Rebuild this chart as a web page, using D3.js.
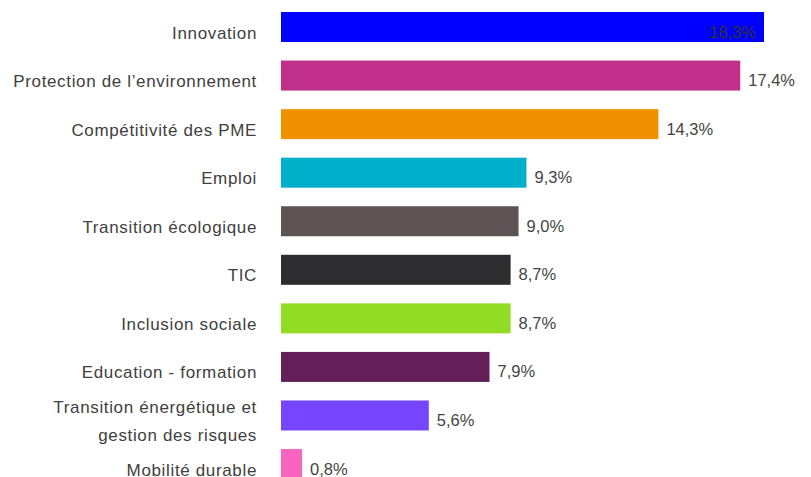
<!DOCTYPE html>
<html>
<head>
<meta charset="utf-8">
<script src="https://cdn.jsdelivr.net/npm/d3@7/dist/d3.min.js"></script>
<style>
  html, body { margin: 0; padding: 0; background: #fff; }
  svg { display: block; }
  text { font-family: "Liberation Sans", Arial, sans-serif; }
</style>
</head>
<body>
<script>
// Thématiques et parts (%)
const categories = [
  "Innovation",
  "Protection de l’environnement",
  "Compétitivité des PME",
  "Emploi",
  "Transition écologique",
  "TIC",
  "Inclusion sociale",
  "Education - formation",
  "Transition énergétique et|gestion des risques",
  "Mobilité durable"
];
const values = [18.3, 17.4, 14.3, 9.3, 9.0, 8.7, 8.7, 7.9, 5.6, 0.8];
const colors = [
  "#0000ff", "#c0308b", "#f29100", "#00afca", "#5d5354",
  "#2d2c2e", "#92dc26", "#621f58", "#7645ff", "#f765c0"
];

const W = 811, H = 477;
const left = 281;
const svg = d3.select("body").append("svg").attr("width", W).attr("height", H);

const n = categories.length;
const step = 48.56, bandW = 30, gap = step - bandW;
const y = d3.scaleBand()
  .domain(d3.range(n))
  .range([12, 12 + n * step - gap])
  .paddingInner(gap / step)
  .paddingOuter(0);
const x = d3.scaleLinear().domain([0, 18.3]).range([left, left + 483]);

const fmt = v => d3.format(".1f")(v).replace(".", ",") + "%";

const rows = svg.append("g").selectAll("g")
  .data(values.map((v, i) => ({ v, i, label: categories[i], color: colors[i] })))
  .join("g")
  .attr("transform", d => `translate(0,${y(d.i)})`);

rows.append("rect")
  .attr("x", x(0))
  .attr("y", 0)
  .attr("width", d => x(d.v) - x(0))
  .attr("height", y.bandwidth())
  .attr("fill", d => d.color);

// category labels (right-aligned, optional second line)
rows.each(function (d) {
  const lines = d.label.split("|");
  const lh = 28;
  const base = y.bandwidth() / 2 + 11.5 - (lines.length - 1) * lh / 2;
  const t = d3.select(this).append("text")
    .attr("text-anchor", "end")
    .attr("font-size", 17)
    .attr("letter-spacing", 0.65)
    .attr("fill", "#404040");
  lines.forEach((ln, k) => {
    t.append("tspan").attr("x", 257).attr("y", base + k * lh).text(ln);
  });
});

// value labels: inside for the longest bar, outside otherwise
const maxV = d3.max(values);
rows.append("text")
  .attr("x", d => d.v === maxV ? x(d.v) - 8 : x(d.v) + 8)
  .attr("y", y.bandwidth() / 2 + 10.5)
  .attr("text-anchor", d => d.v === maxV ? "end" : "start")
  .attr("font-size", 16.5)
  .attr("fill", d => d.v === maxV ? "#333" : "#444")
  .text(d => fmt(d.v));
</script>
</body>
</html>
